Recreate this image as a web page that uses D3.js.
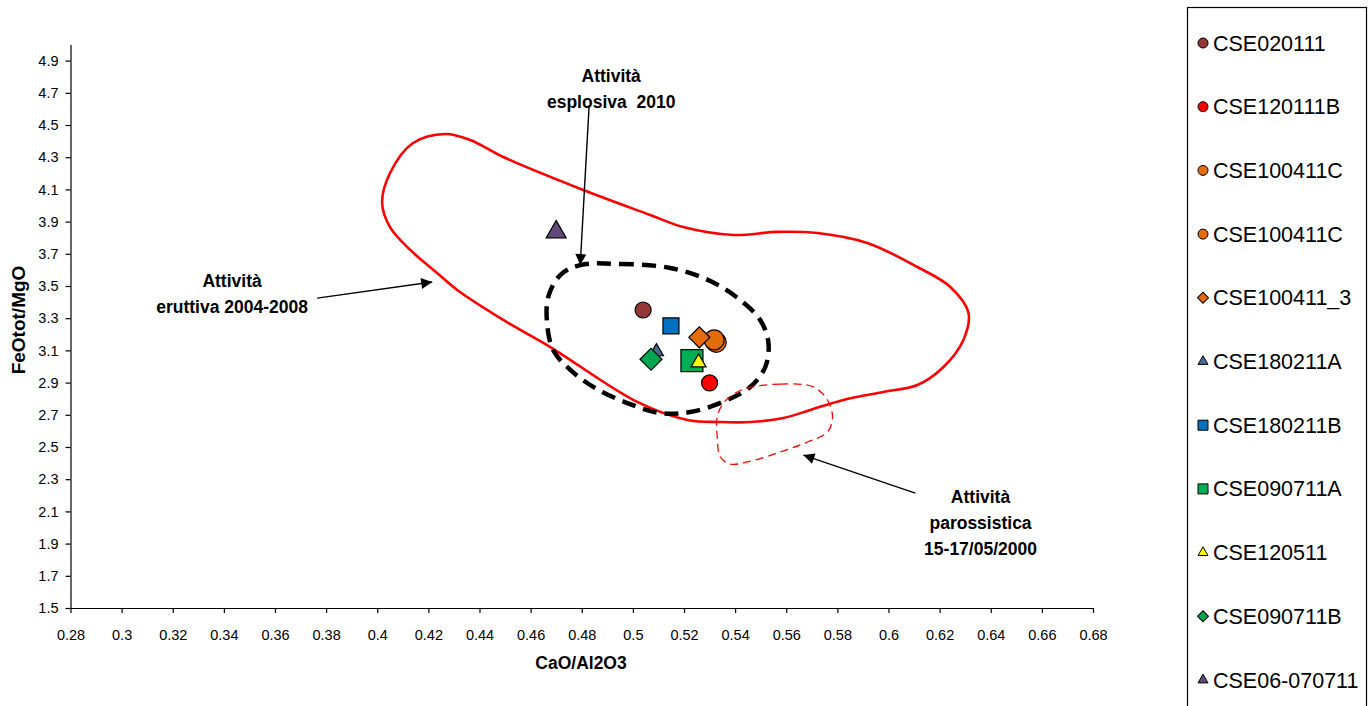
<!DOCTYPE html>
<html>
<head>
<meta charset="utf-8">
<script src="https://cdn.jsdelivr.net/npm/d3@7"></script>
<style>
  body { margin: 0; background: #fff; }
  text { font-family: Arial, "Liberation Sans", sans-serif; }
</style>
</head>
<body>
<div id="graph"></div>
<script>
// samples
var names = ['CSE020111', 'CSE120111B', 'CSE100411C', 'CSE100411C', 'CSE100411_3', 'CSE180211A',
  'CSE180211B', 'CSE090711A', 'CSE120511', 'CSE090711B', 'CSE06-070711']
var caoAl = [0.504, 0.530, 0.5326, 0.5318, 0.526, 0.5092, 0.5149, 0.5231, 0.5257, 0.5071, 0.470]
var feMg  = [3.351, 2.898, 3.150, 3.165, 3.181, 3.092, 3.252, 3.036, 3.024, 3.045, 3.835]

var xTickValues = [0.28, 0.30, 0.32, 0.34, 0.36, 0.38, 0.40, 0.42, 0.44, 0.46, 0.48, 0.50,
  0.52, 0.54, 0.56, 0.58, 0.60, 0.62, 0.64, 0.66, 0.68]
var yTickValues = [1.5, 1.7, 1.9, 2.1, 2.3, 2.5, 2.7, 2.9, 3.1, 3.3, 3.5, 3.7, 3.9, 4.1, 4.3, 4.5, 4.7, 4.9]

// field outlines, [CaO/Al2O3, FeOtot/MgO]
var eruttiva = [[0.4266, 4.444], [0.4364, 4.407], [0.4493, 4.301], [0.4806, 4.096], [0.5068, 3.941],
  [0.5197, 3.866], [0.5393, 3.817], [0.5565, 3.836], [0.5722, 3.829], [0.5917, 3.767], [0.6113, 3.618],
  [0.6242, 3.494], [0.6313, 3.332], [0.6293, 3.165], [0.6215, 2.997], [0.6113, 2.885], [0.598, 2.842],
  [0.5823, 2.792], [0.5694, 2.730], [0.5589, 2.680], [0.5459, 2.655], [0.5342, 2.655], [0.5213, 2.668],
  [0.5017, 2.780], [0.4677, 3.121], [0.4493, 3.289], [0.4313, 3.475], [0.4234, 3.581], [0.4129, 3.724],
  [0.405, 3.866], [0.4019, 4.016], [0.405, 4.202], [0.414, 4.388]]
var esplosiva = [[0.4794, 3.630], [0.4950, 3.637], [0.5146, 3.612], [0.5303, 3.531], [0.5420, 3.413],
  [0.5498, 3.289], [0.553, 3.152], [0.5518, 2.997], [0.5459, 2.873], [0.5361, 2.786], [0.5224, 2.717],
  [0.5107, 2.711], [0.4978, 2.773], [0.4845, 2.873], [0.4747, 2.991], [0.4688, 3.102], [0.4665, 3.258],
  [0.4669, 3.432], [0.4716, 3.568]]
var parossistica = [[0.5448, 2.866], [0.5577, 2.891], [0.5706, 2.873], [0.5761, 2.792], [0.5781, 2.686],
  [0.5761, 2.593], [0.5683, 2.531], [0.5577, 2.469], [0.5448, 2.407], [0.5381, 2.394], [0.5342, 2.438],
  [0.5330, 2.562], [0.5330, 2.686], [0.5354, 2.773], [0.5401, 2.835]]

var labelText = [['Attività', 'esplosiva  2010'], ['Attività', 'eruttiva 2004-2008'],
  ['Attività', 'parossistica', '15-17/05/2000']]
var labelAt = [[0.4915, 4.804], [0.3432, 3.531], [0.636, 2.189]]
var arrowFrom = [[0.4829, 4.624], [0.3765, 3.425], [0.6105, 2.214]]
var arrowTo = [[0.4794, 3.630], [0.4215, 3.525], [0.5667, 2.450]]

// marker styles, same order as names
var shapes = ['circle', 'circle', 'circle', 'circle', 'diamond', 'triangle', 'square', 'square',
  'triangle', 'diamond', 'triangle']
var colors = ['#953735', '#ff0000', '#e36c09', '#e36c09', '#e36c09', '#4a6a94', '#0070c0', '#00b050',
  '#ffff00', '#00a64f', '#604a7b']
var sizes = [16, 16, 20, 20, 21, 14, 16, 22, 15, 22, 20]

var width = 1371, height = 706
var svg = d3.select('#graph').append('svg').attr('width', width).attr('height', height)

var x = d3.scaleLinear().domain([0.28, 0.68]).range([70.5, 1093])
var y = d3.scaleLinear().domain([1.5, 5.0]).range([608, 44.5])

function symbolPath(shape, s){
  if (shape == 'circle') return d3.symbol(d3.symbolCircle, Math.PI * s * s / 4)()
  if (shape == 'square') return d3.symbol(d3.symbolSquare, s * s)()
  if (shape == 'diamond') return d3.symbol(d3.symbolSquare, s * s / 2)()
  return d3.symbol(d3.symbolTriangle, s * s * Math.sqrt(3) / 4)()
}
function symbolRot(shape){ return shape == 'diamond' ? ' rotate(45)' : '' }

// axes
var yAxis = d3.axisLeft(y).tickValues(yTickValues).tickSize(5).tickSizeOuter(0).tickPadding(7)
  .tickFormat(d => d.toFixed(1))
var xAxis = d3.axisBottom(x).tickValues(xTickValues).tickSize(5).tickSizeOuter(0).tickPadding(17)
  .tickFormat(d => String(+d.toFixed(2)))

svg.append('g').attr('transform', 'translate(' + x.range()[0] + ',0)').call(yAxis)
svg.append('g').attr('transform', 'translate(0,' + y.range()[0] + ')').call(xAxis)
svg.selectAll('.tick text').attr('font-size', 14.5).attr('font-family', 'Arial, "Liberation Sans"').attr('fill', '#000')
svg.selectAll('.domain, .tick line').attr('stroke', '#000').attr('stroke-width', 1.2)

svg.append('text').text('CaO/Al2O3')
  .attr('x', 581).attr('y', 669).attr('text-anchor', 'middle')
  .attr('font-size', 17.5).attr('font-weight', 'bold')
svg.append('text').text('FeOtot/MgO')
  .attr('transform', 'translate(25,' + 320 + ') rotate(-90)').attr('text-anchor', 'middle')
  .attr('font-size', 19).attr('font-weight', 'bold')

// fields
var outline = d3.line().x(d => x(d[0])).y(d => y(d[1])).curve(d3.curveCatmullRomClosed.alpha(0.5))

svg.append('path').attr('d', outline(eruttiva))
  .attr('fill', 'none').attr('stroke', '#ff0000').attr('stroke-width', 2.6)
svg.append('path').attr('d', outline(esplosiva))
  .attr('fill', 'none').attr('stroke', '#000').attr('stroke-width', 4.5)
  .attr('stroke-dasharray', '14 8')
svg.append('path').attr('d', outline(parossistica))
  .attr('fill', 'none').attr('stroke', '#ff0000').attr('stroke-width', 1.3)
  .attr('stroke-dasharray', '8 5')

// arrows
svg.append('defs').append('marker')
  .attr('id', 'head').attr('viewBox', '0 0 10 10').attr('refX', 10).attr('refY', 5)
  .attr('markerUnits', 'userSpaceOnUse').attr('markerWidth', 13).attr('markerHeight', 11)
  .attr('orient', 'auto')
  .append('path').attr('d', 'M0,0L10,5L0,10Z').attr('fill', '#000')

arrowFrom.forEach((d, i) => {
  svg.append('line')
    .attr('x1', x(d[0])).attr('y1', y(d[1]))
    .attr('x2', x(arrowTo[i][0])).attr('y2', y(arrowTo[i][1]))
    .attr('stroke', '#000').attr('stroke-width', 1.4)
    .attr('marker-end', 'url(#head)')
})

labelText.forEach((lines, i) => {
  var t = svg.append('text').attr('text-anchor', 'middle')
    .attr('font-size', 17.5).attr('font-weight', 'bold')
    .style('white-space', 'pre')
    .attr('transform', 'translate(' + x(labelAt[i][0]) + ',' + (y(labelAt[i][1]) + 6) + ')')
  lines.forEach((l, j) => t.append('tspan').attr('x', 0).attr('y', j * 26).text(l))
})

// samples
svg.append('g').selectAll('path').data(names).join('path')
  .attr('d', (d, i) => symbolPath(shapes[i], sizes[i]))
  .attr('transform', (d, i) => 'translate(' + x(caoAl[i]) + ',' + y(feMg[i]) + ')' + symbolRot(shapes[i]))
  .attr('fill', (d, i) => colors[i])
  .attr('stroke', '#000').attr('stroke-width', 1.2)

// legend
var lg = svg.append('g')
lg.append('rect').attr('x', 1187.5).attr('y', 7.5).attr('width', 179).attr('height', 720)
  .attr('fill', '#fff').attr('stroke', '#000').attr('stroke-width', 1.2)
var item = lg.selectAll('g.item').data(names).join('g')
  .attr('transform', (d, i) => 'translate(1203,' + (43 + i * 63.7) + ')')
item.append('path')
  .attr('d', (d, i) => symbolPath(shapes[i], shapes[i] == 'diamond' ? 11 : 10))
  .attr('transform', (d, i) => symbolRot(shapes[i]).trim())
  .attr('fill', (d, i) => colors[i]).attr('stroke', '#000').attr('stroke-width', 1)
item.append('text').text(d => d)
  .attr('x', 10).attr('y', 7.5).attr('font-size', 21.5)
</script>
</body>
</html>
